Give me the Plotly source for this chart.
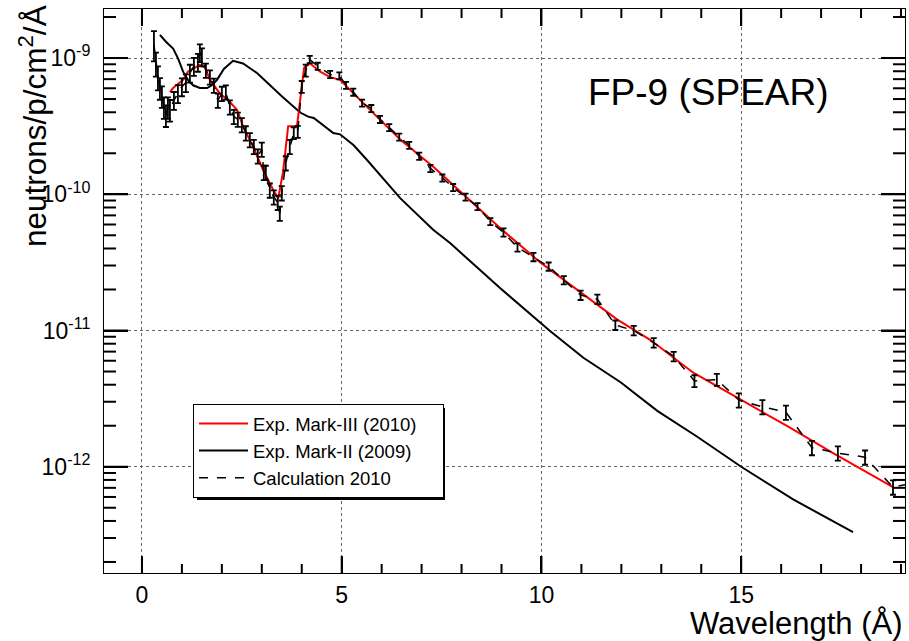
import math
import plotly.graph_objects as go

# ---------------- data ----------------
# Exp. Mark-III (2010): wavelength (Å), log10(flux)
mk3_x = [0.70, 0.78, 1.03, 1.15, 1.33, 1.45, 1.58, 1.70, 1.95, 2.16, 2.38, 2.53, 2.78, 3.03,
         3.29, 3.41, 3.53, 3.66, 3.88, 4.00, 4.06, 4.21, 4.46, 4.71, 4.96, 5.64, 6.47, 7.30,
         8.05, 8.97, 9.97, 10.98, 11.90, 12.73, 13.80, 15.00, 16.20, 17.30, 18.80]
mk3_log = [-9.25, -9.22, -9.16, -9.10, -9.07, -9.05, -9.07, -9.16, -9.26, -9.31, -9.38, -9.50,
           -9.65, -9.82, -9.97, -10.03, -9.84, -9.50, -9.50, -9.21, -9.07, -9.04, -9.10, -9.14,
           -9.16, -9.36, -9.60, -9.80, -10.00, -10.25, -10.50, -10.72, -10.92, -11.07, -11.31,
           -11.51, -11.71, -11.90, -12.15]

# Exp. Mark-II (2009)
mk2_x = [0.45, 0.60, 0.78, 0.90, 1.03, 1.15, 1.28, 1.45, 1.63, 1.75, 1.88, 2.05, 2.28, 2.53,
         2.88, 3.13, 3.50, 3.96, 4.16, 4.30, 4.79, 4.96, 5.30, 5.64, 6.00, 6.47, 7.29, 7.72,
         8.40, 8.97, 10.20, 11.05, 11.98, 12.90, 13.90, 15.00, 16.30, 17.80]
mk2_log = [-8.83, -8.88, -8.93, -9.00, -9.10, -9.16, -9.20, -9.22, -9.22, -9.20, -9.16, -9.08,
           -9.02, -9.04, -9.11, -9.18, -9.28, -9.40, -9.43, -9.44, -9.55, -9.56, -9.64, -9.75,
           -9.87, -10.03, -10.26, -10.36, -10.54, -10.69, -11.00, -11.20, -11.38, -11.59,
           -11.78, -12.00, -12.24, -12.48]

# Calculation 2010 (with relative errors in %)
calc_x = [0.30, 0.35, 0.40, 0.45, 0.50, 0.55, 0.60, 0.65, 0.70, 0.80, 0.90, 1.00, 1.10, 1.20,
          1.30, 1.40, 1.45, 1.50, 1.60, 1.70, 1.80, 1.90, 2.00, 2.10, 2.20, 2.30, 2.40, 2.50,
          2.60, 2.70, 2.80, 2.90, 3.00, 3.05, 3.10, 3.20, 3.30, 3.40, 3.45, 3.50, 3.60, 3.70,
          3.80, 3.90, 4.00, 4.10, 4.20, 4.40, 4.71, 4.94, 5.11, 5.29, 5.51, 5.74, 5.96, 6.19,
          6.44, 6.69, 6.94, 7.22, 7.52, 7.79, 8.10, 8.40, 8.72, 9.05, 9.40, 9.80, 10.18,
          10.56, 10.98, 11.40, 11.85, 12.31, 12.81, 13.31, 13.83, 14.39, 14.94, 15.53, 16.12,
          16.77, 17.42, 18.10, 18.80, 19.30]
calc_log = [-8.90, -9.04, -9.14, -9.22, -9.28, -9.36, -9.42, -9.36, -9.38, -9.31, -9.26, -9.21,
            -9.18, -9.11, -9.06, -9.03, -8.96, -8.99, -9.09, -9.14, -9.20, -9.31, -9.26, -9.25,
            -9.36, -9.43, -9.45, -9.49, -9.55, -9.60, -9.65, -9.72, -9.67, -9.84, -9.84, -9.97,
            -10.02, -10.06, -10.14, -9.99, -9.77, -9.65, -9.55, -9.54, -9.21, -9.09, -9.01,
            -9.06, -9.12, -9.13, -9.20, -9.25, -9.33, -9.37, -9.45, -9.51, -9.58, -9.64, -9.72,
            -9.81, -9.88, -9.95, -10.02, -10.09, -10.20, -10.28, -10.39, -10.46, -10.53,
            -10.63, -10.74, -10.77, -10.96, -11.00, -11.09, -11.19, -11.37, -11.36, -11.51,
            -11.56, -11.60, -11.86, -11.90, -11.93, -12.15, -12.12]
calc_err_pct = [25, 20, 20, 18, 18, 18, 18, 18, 18, 15, 15, 15, 15, 15, 15, 15, 15, 15, 12, 12,
                12, 12, 12, 12, 12, 12, 12, 12, 12, 12, 12, 12, 12, 12, 12, 12, 12, 12, 12, 12,
                12, 12, 10, 10, 10, 10, 6, 6, 6, 6, 6, 6, 6, 6, 6, 6, 6, 6, 6, 6, 6, 6, 6, 6, 6,
                7, 7, 7, 7, 7, 8, 8, 8, 8, 8, 8, 10, 10, 12, 12, 12, 12, 12, 12, 12, 12]

y_ticks = [1e-12, 1e-11, 1e-10, 1e-9]
y_ticktext = ["10<sup>-12</sup>", "10<sup>-11</sup>", "10<sup>-10</sup>", "10<sup>-9</sup>"]
y_minor = [m * 10.0 ** e for e in range(-13, -8) for m in range(2, 10)]
x_ticks = [0, 5, 10, 15]
x_minor = [v for v in range(-1, 20) if v % 5 != 0]

FONT = "Arial"
XR = [-0.95, 19.1]
YR = [-12.78, -8.64]
PAD = "\u00a0" * 4

mk3_y = [10 ** v for v in mk3_log]
mk2_y = [10 ** v for v in mk2_log]
calc_y = [10 ** v for v in calc_log]
calc_err = [y * p / 100.0 for y, p in zip(calc_y, calc_err_pct)]

PL, PR, PT, PB = 104, 905, 9, 573
W, H = PR - PL, PB - PT
PX_PER_X = W / (XR[1] - XR[0])        # pixels per Å
PX_PER_DEC = H / (YR[1] - YR[0])      # pixels per decade
def px(xp):
    return (xp - PL) / W
def py(yp):
    return (PB - yp) / H

# ---- ROOT-style inside tick marks on all four sides, at the axis tick values ----
tk_x, tk_y = [], []
for vals, length in ((x_ticks, 17), (x_minor, 9)):
    dlog = length / PX_PER_DEC
    for v in vals:
        if XR[0] <= v <= XR[1]:
            tk_x += [v, v, None, v, v, None]
            tk_y += [10 ** YR[0], 10 ** (YR[0] + dlog), None,
                     10 ** (YR[1] - dlog), 10 ** YR[1], None]
for vals, length in ((y_ticks, 24), (y_minor, 12)):
    dx = length / PX_PER_X
    for v in vals:
        if YR[0] <= math.log10(v) <= YR[1]:
            tk_x += [XR[0], XR[0] + dx, None, XR[1] - dx, XR[1], None]
            tk_y += [v, v, None, v, v, None]

fig = go.Figure()
fig.add_trace(go.Scatter(
    x=tk_x, y=tk_y, mode="lines", line=dict(color="black", width=2),
    showlegend=False, hoverinfo="skip", cliponaxis=False, connectgaps=False))
fig.add_trace(go.Scatter(
    x=mk2_x, y=mk2_y, mode="lines", name="Exp. Mark-II (2009)" + PAD,
    line=dict(color="black", width=2), legendrank=2))
fig.add_trace(go.Scatter(
    x=mk3_x, y=mk3_y, mode="lines", name="Exp. Mark-III (2010)" + PAD,
    line=dict(color="#ff0000", width=2), legendrank=1))
fig.add_trace(go.Scatter(
    x=calc_x, y=calc_y, mode="lines", name="Calculation 2010" + PAD,
    line=dict(color="black", width=1.5, dash="dash"),
    error_y=dict(type="data", array=calc_err, color="black", thickness=1.8, width=3),
    legendrank=3))

# legend shadow (ROOT style)
fig.add_shape(type="rect", xref="paper", yref="paper",
              x0=px(197), x1=px(445), y0=py(500), y1=py(408),
              fillcolor="black", line=dict(width=0), layer="above")

fig.add_annotation(text="FP-9 (SPEAR)", xref="paper", yref="paper",
                   x=px(708), y=py(92), xanchor="center", yanchor="middle",
                   showarrow=False, font=dict(family=FONT, size=37, color="black"))
fig.add_annotation(text="Wavelength (Å)", xref="paper", yref="paper",
                   x=1.0, y=py(623), xanchor="right", yanchor="middle",
                   showarrow=False, font=dict(family=FONT, size=31, color="black"))
fig.add_annotation(text="neutrons/p/cm<sup>2</sup>/Å", xref="paper", yref="paper",
                   x=px(33), y=py(3), xanchor="center", yanchor="top", textangle=-90,
                   showarrow=False, font=dict(family=FONT, size=31.5, color="black"))

fig.update_layout(
    width=909, height=641,
    margin=dict(l=PL, r=909 - PR, t=PT, b=641 - PB),
    paper_bgcolor="white", plot_bgcolor="white",
    font=dict(family=FONT, size=23, color="black"),
    showlegend=True,
    legend=dict(x=px(193), y=py(404), xanchor="left", yanchor="top",
                bgcolor="white", bordercolor="black", borderwidth=1,
                font=dict(family=FONT, size=18.5, color="black"),
                itemwidth=49, tracegroupgap=0),
    xaxis=dict(
        range=XR, tickmode="array", tickvals=x_ticks, ticks="inside", ticklen=17,
        tickwidth=2, tickcolor="black", showline=True, linecolor="black",
        mirror="allticks", showgrid=True, gridcolor="#666", griddash="dot",
        zeroline=False, ticklabelstandoff=1,
    ),
    yaxis=dict(
        type="log", range=YR, tickmode="array", tickvals=y_ticks, ticktext=y_ticktext,
        ticks="inside", ticklen=24, tickwidth=2, tickcolor="black",
        showline=True, linecolor="black", mirror="allticks",
        showgrid=True, gridcolor="#666", griddash="dot", zeroline=False,
        ticklabelstandoff=8,
    ),
)

fig.write_html("out.html")
